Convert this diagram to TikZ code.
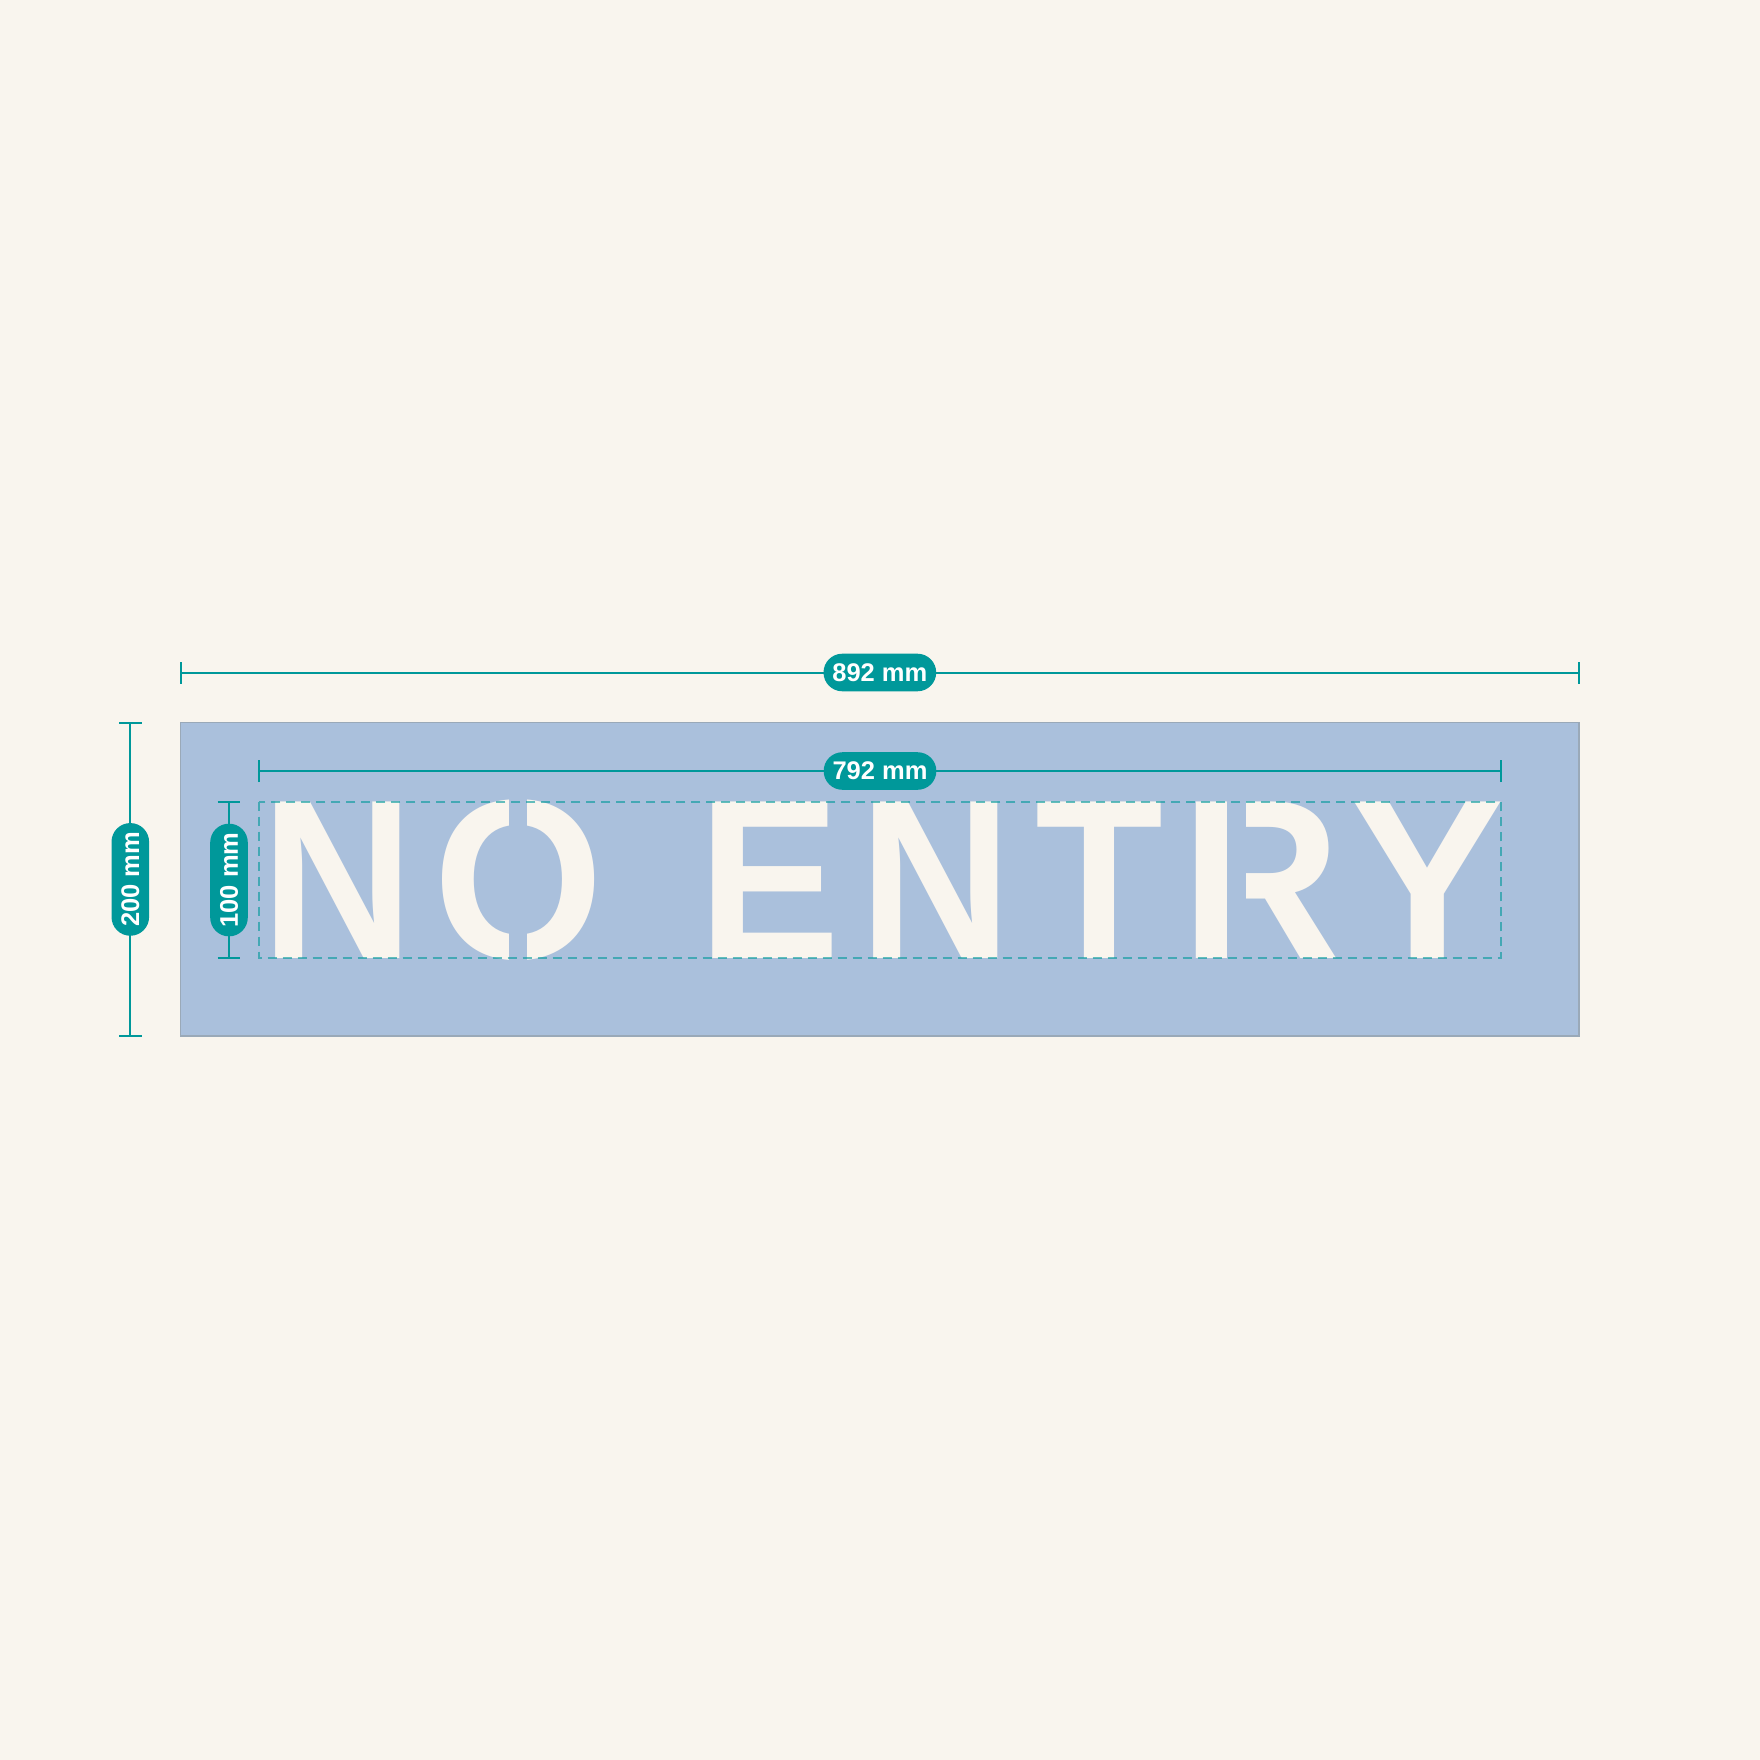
\documentclass[tikz,border=0pt]{standalone}
\usepackage{fontspec}
\setmainfont{Liberation Sans}
\usetikzlibrary{calc}
\definecolor{bgc}{HTML}{F9F5EE}
\definecolor{platec}{HTML}{AAC0DC}
\definecolor{platebd}{HTML}{9AA9B8}
\definecolor{tealc}{HTML}{00989A}
\newcommand{\sq}[2]{\scalebox{#1}[1]{#2}}
\begin{document}
\begin{tikzpicture}[x=1pt,y=-1pt,
  dimline/.style={draw=tealc, line width=2pt},
  pill/.style={fill=tealc, text=white, rounded corners=18.8pt, minimum width=112.7pt,
    minimum height=37.6pt, inner sep=0pt, font=\fontsize{25.5}{25.5}\selectfont\bfseries},
  glyph/.style={anchor=base, inner sep=0pt, text=bgc, text height=156pt, text depth=0pt,
    font=\fontsize{227.6}{227.6}\selectfont\bfseries},
  bridge/.style={fill=platec, draw=none},
  guide/.style={draw=tealc, draw opacity=0.6, line width=1.8pt, dash pattern=on 9pt off 6pt}]
\fill[bgc] (0,0) rectangle (1760,1760);
\useasboundingbox (0,0) rectangle (1760,1760);
% plate
\filldraw[fill=platec, draw=platebd, line width=1.2pt] (180.7,722.8) rectangle (1579,1036);
% letters
\node[glyph] (l1) at (337.3,958.3) {\sq{0.928}{N}};
\node[glyph] (l2) at (518.5,958.3) {\sq{0.962}{O}};
\node[glyph] (l3) at (769.5,958.3) {\sq{0.935}{E}};
\node[glyph] (l4) at (935.5,958.3) {\sq{0.928}{N}};
\node[glyph] (l5) at (1099.4,958.3) {\sq{0.92}{T}};
\node[glyph] (l6) at (1261.1,958.3) {\sq{0.971}{R}};
\node[glyph] (l7) at (1427.1,958.3) {\sq{1.016}{Y}};
% stencil bridges
\fill[bridge] (509.3,790) rectangle (526.7,972);
\fill[bridge] (1226.8,795) rectangle (1246,962);
% text area guide
\draw[guide] (259.3,801.7) rectangle (1500.7,958.3);
% top overall width
\coordinate (w1) at (180.7,672.5);
\coordinate (w2) at (1579,672.5);
\draw[dimline] (w1) -- (w2);
\draw[dimline] ([yshift=-11pt]w1) -- ([yshift=11pt]w1);
\draw[dimline] ([yshift=-11pt]w2) -- ([yshift=11pt]w2);
\node[pill] (p892) at ($(w1)!0.5!(w2)$) {892 mm};
% inner text width
\coordinate (v1) at (259.3,771);
\coordinate (v2) at (1500.7,771);
\draw[dimline] (v1) -- (v2);
\draw[dimline] ([yshift=-11pt]v1) -- ([yshift=11pt]v1);
\draw[dimline] ([yshift=-11pt]v2) -- ([yshift=11pt]v2);
\node[pill] (p792) at ($(v1)!0.5!(v2)$) {792 mm};
% overall height
\coordinate (h1) at (130.3,722.8);
\coordinate (h2) at (130.3,1036);
\draw[dimline] (h1) -- (h2);
\draw[dimline] ([xshift=-11.3pt]h1) -- ([xshift=11.3pt]h1);
\draw[dimline] ([xshift=-11.3pt]h2) -- ([xshift=11.3pt]h2);
\node[pill, rotate=90] (p200) at ($(h1)!0.5!(h2)$) {200 mm};
% text height
\coordinate (k1) at (229,801.7);
\coordinate (k2) at (229,958.3);
\draw[dimline] (k1) -- (k2);
\draw[dimline] ([xshift=-11.3pt]k1) -- ([xshift=11.3pt]k1);
\draw[dimline] ([xshift=-11.3pt]k2) -- ([xshift=11.3pt]k2);
\node[pill, rotate=90] (p100) at ($(k1)!0.5!(k2)$) {100 mm};
\end{tikzpicture}
\end{document}
